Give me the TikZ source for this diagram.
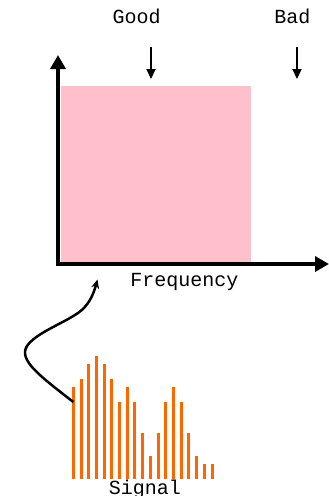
\documentclass[tikz,border=0pt]{standalone}
\usepackage{fontspec}
\setmonofont{Liberation Mono}
\usetikzlibrary{arrows.meta}
\definecolor{boxpink}{RGB}{255,192,203}
\definecolor{barorange}{RGB}{255,102,0}
\tikzset{
  lbl/.style={font=\ttfamily\fontsize{20}{24}\selectfont, inner sep=0pt, anchor=base},
  axis/.style={line width=4pt, -{Triangle[length=14pt,width=15pt]}},
  marker/.style={line width=2pt, -{Triangle[length=10pt,width=9pt]}},
  bar/.style={fill=barorange, draw=none},
  link/.style={line width=2.5pt, -{Stealth[length=9pt,width=8pt]}}
}
\begin{document}
\begin{tikzpicture}[x=1pt,y=-1pt]
  \useasboundingbox (0,0) rectangle (329,496);
  % pass band
  \fill[boxpink] (61,86) rectangle (251,262);
  % axes
  \coordinate (origin) at (58,264);
  \coordinate (ytip) at (58,55);
  \coordinate (xtip) at (329,264);
  \draw[axis] ([yshift=2pt]origin) -- (ytip);
  \draw[axis] ([xshift=-2pt]origin) -- (xtip);
  % labels
  \node[lbl] (good) at (136.7,23.3) {Good};
  \node[lbl] (bad) at (292.5,23.3) {Bad};
  \node[lbl] (freq) at (184.3,286.7) {Frequency};
  \node[lbl] (signal) at (145,494) {Signal};
  % markers
  \coordinate (goodtop) at (151,47);
  \coordinate (goodbot) at (151,79);
  \coordinate (badtop) at (297,47);
  \coordinate (badbot) at (297,79);
  \draw[marker] (goodtop) -- (goodbot);
  \draw[marker] (badtop) -- (badbot);
  % signal spectrum
  \foreach \h [count=\i from 0] in {12,13,15,16,15,13,10,12,10,6,3,6,10,12,10,6,3,2,2} {
    \fill[bar] ({73.3+7.71*\i-1.5},479.3) rectangle ({73.3+7.71*\i+1.5},{479.3-7.72*\h});
  }
  \coordinate (sigstart) at (73.3,402);
  \coordinate (freqin) at (97.5,279.5);
  \draw[link] (sigstart) .. controls (40,376) and (18,360) .. (27,346)
     .. controls (36,333) and (62,324) .. (78,313)
     .. controls (88,306) and (93,296) .. (freqin);
\end{tikzpicture}
\end{document}
